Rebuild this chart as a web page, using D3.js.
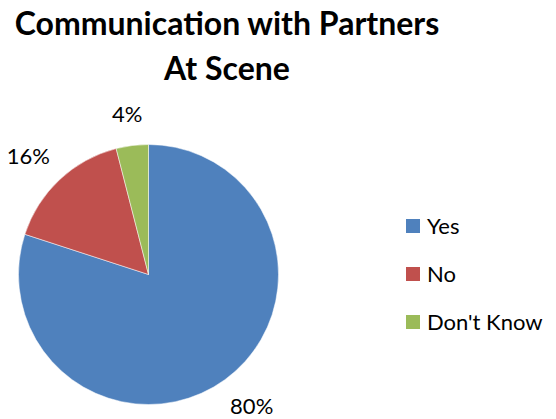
<!DOCTYPE html>
<html>
<head>
<meta charset="utf-8">
<script src="https://cdn.jsdelivr.net/npm/d3@7"></script>
<style>
  body { margin: 0; background: #fff; }
  text { font-family: Lato, "Open Sans", sans-serif; fill: #000; }
</style>
</head>
<body>
<div id="chart"></div>
<script>
// Data
const categories = ["Yes", "No", "Don't Know"];
const values = [80, 16, 4];
const colors = ["#4F81BD", "#C0504D", "#9BBB59"];
const titleLines = ["Communication with Partners", "At Scene"];

const width = 556, height = 419;
const cx = 148.5, cy = 274.5, radius = 130;

const svg = d3.select("#chart")
    .append("svg")
    .attr("width", width)
    .attr("height", height);

// Title
svg.append("text")
    .attr("x", 227)
    .attr("y", 35)
    .attr("text-anchor", "middle")
    .style("font-size", "32px")
    .style("font-weight", "bold")
    .selectAll("tspan")
    .data(titleLines)
    .enter()
    .append("tspan")
    .attr("x", 227)
    .attr("dy", (d, i) => i === 0 ? 0 : 45)
    .text(d => d);

const data = categories.map((c, i) => ({ name: c, value: values[i] }));
const color = d3.scaleOrdinal().domain(categories).range(colors);

const pie = d3.pie().sort(null).value(d => d.value);
const arc = d3.arc().innerRadius(0).outerRadius(radius);

const g = svg.append("g").attr("transform", `translate(${cx},${cy})`);

const arcs = pie(data);

g.selectAll("path")
    .data(arcs)
    .enter()
    .append("path")
    .attr("d", arc)
    .attr("fill", d => color(d.data.name))
    .attr("stroke", "#fff")
    .attr("stroke-width", 0.5);

// Percent labels outside the pie, box pushed outward along the slice direction
const gap = 24;
const pct = g.selectAll(".pct")
    .data(arcs)
    .enter()
    .append("text")
    .attr("class", "pct")
    .attr("text-anchor", "middle")
    .style("font-size", "22px")
    .text(d => d.data.value + "%");

pct.each(function(d) {
    const a = (d.startAngle + d.endAngle) / 2;
    const dx = Math.sin(a), dy = -Math.cos(a);
    const bb = this.getBBox();
    const capH = 16;
    const x = dx * (radius + gap) + dx * bb.width / 2;
    const y = dy * (radius + gap) + dy * capH / 2 + capH / 2;
    d3.select(this).attr("x", x).attr("y", y);
});

// Legend
const legend = svg.selectAll(".legend")
    .data(categories)
    .enter()
    .append("g")
    .attr("transform", (d, i) => `translate(406,${219 + i * 48})`);

legend.append("rect")
    .attr("width", 14)
    .attr("height", 14)
    .attr("fill", d => color(d));

legend.append("text")
    .attr("x", 21)
    .attr("y", 15)
    .style("font-size", "22px")
    .text(d => d);
</script>
</body>
</html>
